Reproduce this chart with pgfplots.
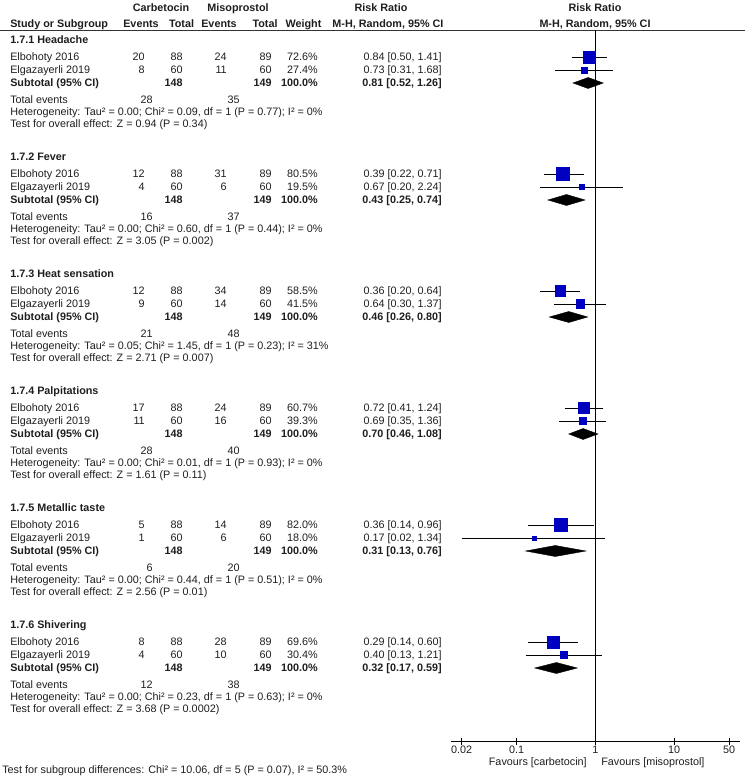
\documentclass[border=0pt]{standalone}
\usepackage{pgfplots}
\pgfplotsset{compat=1.18}
\usepackage{fontspec}
\setmainfont{Liberation Sans}
\definecolor{rmblue}{RGB}{0,0,192}
\definecolor{txt}{RGB}{30,30,30}

\newcommand{\TL}[3]{\node[anchor=base west,inner sep=0pt] at (#1,#2+3.8) {#3};}
\newcommand{\TR}[3]{\node[anchor=base east,inner sep=0pt] at (#1,#2+3.8) {#3};}
\newcommand{\TC}[3]{\node[anchor=base,inner sep=0pt] at (#1,#2+3.8) {#3};}
\newcommand{\study}[8]{\TL{10}{#1}{#2}\TR{145}{#1}{#3}\TR{183}{#1}{#4}\TR{227}{#1}{#5}\TR{272}{#1}{#6}\TR{318}{#1}{#7}\TR{442}{#1}{#8}}
\newcommand{\subt}[2]{\TL{10}{#1}{\bfseries Subtotal (95\% CI)}\TR{183}{#1}{\bfseries 148}\TR{272}{#1}{\bfseries 149}\TR{318}{#1}{\bfseries 100.0\%}\TR{442}{#1}{\bfseries #2}}
\newcommand{\tot}[3]{\TL{10}{#1}{Total events}\TR{153}{#1}{#2}\TR{240}{#1}{#3}}

\begin{document}
\begin{tikzpicture}[font=\fontsize{8.1}{9.7}\selectfont, text=txt]
\begin{scope}[x=0.75pt,y=-0.75pt]
\useasboundingbox (0,0) rectangle (750,777);
% headers
\TC{161}{8}{\bfseries Carbetocin}
\TC{238}{8}{\bfseries Misoprostol}
\TC{381}{8}{\bfseries Risk Ratio}
\TC{595}{8}{\bfseries Risk Ratio}
\TL{10}{23.5}{\bfseries Study or Subgroup}
\TC{141}{23.5}{\bfseries Events}
\TC{181.5}{23.5}{\bfseries Total}
\TC{219}{23.5}{\bfseries Events}
\TC{265}{23.5}{\bfseries Total}
\TC{303.5}{23.5}{\bfseries Weight}
\TC{388}{23.5}{\bfseries M-H, Random, 95\% CI}
\TC{595}{23.5}{\bfseries M-H, Random, 95\% CI}
\draw[line width=0.6pt, black!80] (0,30.5) -- (745,30.5);
% group 1
\def\h{40}
\TL{10}{\h}{\bfseries 1.7.1 Headache}
\study{\h+17}{Elbohoty 2016}{20}{88}{24}{89}{72.6\%}{0.84 [0.50, 1.41]}
\study{\h+30}{Elgazayerli 2019}{8}{60}{11}{60}{27.4\%}{0.73 [0.31, 1.68]}
\subt{\h+43}{0.81 [0.52, 1.26]}
\tot{\h+60}{28}{35}
\TL{10}{\h+72}{Heterogeneity: Tau² = 0.00; Chi² = 0.09, df = 1 (P = 0.77); I² = 0\%}
\TL{10}{\h+84}{Test for overall effect: Z = 0.94 (P = 0.34)}
% group 2
\def\h{157}
\TL{10}{\h}{\bfseries 1.7.2 Fever}
\study{\h+17}{Elbohoty 2016}{12}{88}{31}{89}{80.5\%}{0.39 [0.22, 0.71]}
\study{\h+30}{Elgazayerli 2019}{4}{60}{6}{60}{19.5\%}{0.67 [0.20, 2.24]}
\subt{\h+43}{0.43 [0.25, 0.74]}
\tot{\h+60}{16}{37}
\TL{10}{\h+72}{Heterogeneity: Tau² = 0.00; Chi² = 0.60, df = 1 (P = 0.44); I² = 0\%}
\TL{10}{\h+84}{Test for overall effect: Z = 3.05 (P = 0.002)}
% group 3
\def\h{274}
\TL{10}{\h}{\bfseries 1.7.3 Heat sensation}
\study{\h+17}{Elbohoty 2016}{12}{88}{34}{89}{58.5\%}{0.36 [0.20, 0.64]}
\study{\h+30}{Elgazayerli 2019}{9}{60}{14}{60}{41.5\%}{0.64 [0.30, 1.37]}
\subt{\h+43}{0.46 [0.26, 0.80]}
\tot{\h+60}{21}{48}
\TL{10}{\h+72}{Heterogeneity: Tau² = 0.05; Chi² = 1.45, df = 1 (P = 0.23); I² = 31\%}
\TL{10}{\h+84}{Test for overall effect: Z = 2.71 (P = 0.007)}
% group 4
\def\h{391}
\TL{10}{\h}{\bfseries 1.7.4 Palpitations}
\study{\h+17}{Elbohoty 2016}{17}{88}{24}{89}{60.7\%}{0.72 [0.41, 1.24]}
\study{\h+30}{Elgazayerli 2019}{11}{60}{16}{60}{39.3\%}{0.69 [0.35, 1.36]}
\subt{\h+43}{0.70 [0.46, 1.08]}
\tot{\h+60}{28}{40}
\TL{10}{\h+72}{Heterogeneity: Tau² = 0.00; Chi² = 0.01, df = 1 (P = 0.93); I² = 0\%}
\TL{10}{\h+84}{Test for overall effect: Z = 1.61 (P = 0.11)}
% group 5
\def\h{508}
\TL{10}{\h}{\bfseries 1.7.5 Metallic taste}
\study{\h+17}{Elbohoty 2016}{5}{88}{14}{89}{82.0\%}{0.36 [0.14, 0.96]}
\study{\h+30}{Elgazayerli 2019}{1}{60}{6}{60}{18.0\%}{0.17 [0.02, 1.34]}
\subt{\h+43}{0.31 [0.13, 0.76]}
\tot{\h+60}{6}{20}
\TL{10}{\h+72}{Heterogeneity: Tau² = 0.00; Chi² = 0.44, df = 1 (P = 0.51); I² = 0\%}
\TL{10}{\h+84}{Test for overall effect: Z = 2.56 (P = 0.01)}
% group 6
\def\h{625}
\TL{10}{\h}{\bfseries 1.7.6 Shivering}
\study{\h+17}{Elbohoty 2016}{8}{88}{28}{89}{69.6\%}{0.29 [0.14, 0.60]}
\study{\h+30}{Elgazayerli 2019}{4}{60}{10}{60}{30.4\%}{0.40 [0.13, 1.21]}
\subt{\h+43}{0.32 [0.17, 0.59]}
\tot{\h+60}{12}{38}
\TL{10}{\h+72}{Heterogeneity: Tau² = 0.00; Chi² = 0.23, df = 1 (P = 0.63); I² = 0\%}
\TL{10}{\h+84}{Test for overall effect: Z = 3.68 (P = 0.0002)}
% bottom
\TR{587}{762}{Favours [carbetocin]}
\TL{601}{762}{Favours [misoprostol]}
\TL{2}{770}{Test for subgroup differences: Chi² = 10.06, df = 5 (P = 0.07), I² = 50.3\%}
\end{scope}

\begin{axis}[
  at={(338.25pt,-555.75pt)}, anchor=south west,
  scale only axis, width=216.75pt, height=533.25pt,
  xmode=log, xmin=0.014668, xmax=68.96, ymin=-741, ymax=-30,
  axis x line*=bottom, axis y line=none,
  x axis line style={-},
  axis line style={black, line width=0.6pt},
  xtick={0.02,0.1,1,10,50}, xticklabels={0.02,0.1,1,10,50},
  minor xtick={},
  tick align=center, major tick length=5.25pt,
  every tick/.style={black, line width=0.6pt},
  xticklabel style={font=\fontsize{8.1}{9.7}\selectfont, text=txt, inner sep=0pt, anchor=base, yshift=-6.6pt},
  clip=false,
]
\addplot[black, line width=0.6pt] coordinates {(1,-30.5) (1,-741)};
\addplot[black, line width=0.6pt, unbounded coords=jump] table[row sep=\\] {
x y \\
0.50 -57 \\ 1.41 -57 \\ nan nan \\
0.31 -70 \\ 1.68 -70 \\ nan nan \\
0.22 -174 \\ 0.71 -174 \\ nan nan \\
0.20 -187 \\ 2.24 -187 \\ nan nan \\
0.20 -291 \\ 0.64 -291 \\ nan nan \\
0.30 -304 \\ 1.37 -304 \\ nan nan \\
0.41 -408 \\ 1.24 -408 \\ nan nan \\
0.35 -421 \\ 1.36 -421 \\ nan nan \\
0.14 -525 \\ 0.96 -525 \\ nan nan \\
0.02 -538 \\ 1.34 -538 \\ nan nan \\
0.14 -642 \\ 0.60 -642 \\ nan nan \\
0.13 -655 \\ 1.21 -655 \\
};
\addplot[scatter, only marks, mark=square*,
  scatter/use mapped color={draw=rmblue, fill=rmblue},
  visualization depends on={\thisrow{ms} \as \msz},
  scatter/@pre marker code/.append style={/tikz/mark size=\msz}]
 table[row sep=\\] {
x y ms \\
0.84 -57 4.5 \\
0.73 -70 2.25 \\
0.39 -174 4.875 \\
0.67 -187 1.7 \\
0.36 -291 3.94 \\
0.64 -304 3.19 \\
0.72 -408 4.1 \\
0.69 -421 2.6 \\
0.36 -525 4.875 \\
0.17 -538 1.5 \\
0.29 -642 4.5 \\
0.40 -655 2.44 \\
};
\addplot[fill=black, draw=black, line width=0.3pt] coordinates {(0.52,-83) (0.81,-77.5) (1.26,-83) (0.81,-88.5)} -- cycle;
\addplot[fill=black, draw=black, line width=0.3pt] coordinates {(0.25,-200) (0.43,-194.5) (0.74,-200) (0.43,-205.5)} -- cycle;
\addplot[fill=black, draw=black, line width=0.3pt] coordinates {(0.26,-317) (0.46,-311.5) (0.80,-317) (0.46,-322.5)} -- cycle;
\addplot[fill=black, draw=black, line width=0.3pt] coordinates {(0.46,-434) (0.70,-428.5) (1.08,-434) (0.70,-439.5)} -- cycle;
\addplot[fill=black, draw=black, line width=0.3pt] coordinates {(0.13,-551) (0.31,-545.5) (0.76,-551) (0.31,-556.5)} -- cycle;
\addplot[fill=black, draw=black, line width=0.3pt] coordinates {(0.17,-668) (0.32,-662.5) (0.59,-668) (0.32,-673.5)} -- cycle;
\end{axis}
\end{tikzpicture}
\end{document}
